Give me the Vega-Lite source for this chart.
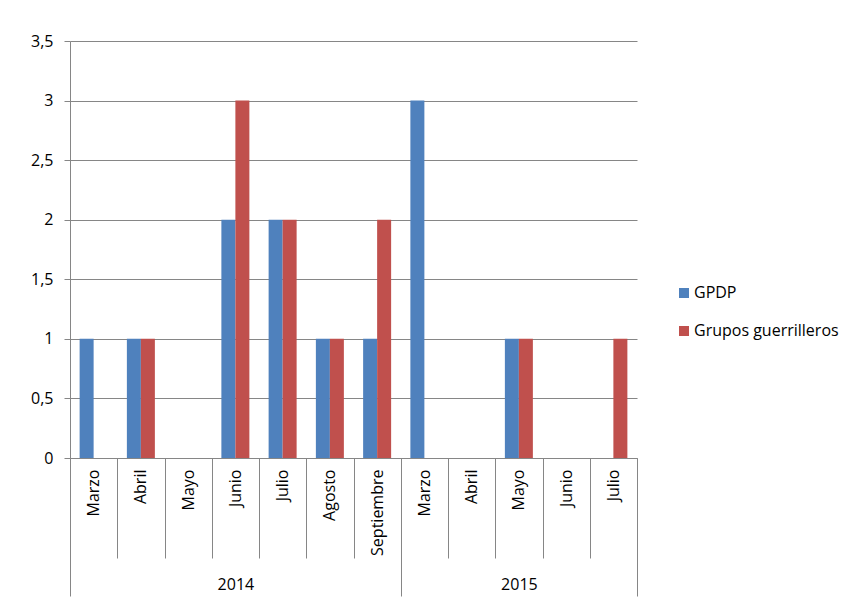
{
  "$schema": "https://vega.github.io/schema/vega-lite/v6.json",
  "width": 567,
  "height": 417,
  "autosize": {"type": "none"},
  "padding": {"left": 70, "top": 41, "right": 219, "bottom": 144},
  "background": "white",
  "config": {
    "font": "Open Sans",
    "view": {"stroke": null},
    "axis": {"labelFont": "Open Sans", "labelFontSize": 16, "labelColor": "#000000", "domainColor": "#868686", "tickColor": "#868686", "gridColor": "#868686"}
  },
  "data": {
    "values": [
      {"cat": "2014|Marzo", "serie": "GPDP", "valor": 1},
      {"cat": "2014|Marzo", "serie": "Grupos guerrilleros", "valor": 0},
      {"cat": "2014|Abril", "serie": "GPDP", "valor": 1},
      {"cat": "2014|Abril", "serie": "Grupos guerrilleros", "valor": 1},
      {"cat": "2014|Mayo", "serie": "GPDP", "valor": 0},
      {"cat": "2014|Mayo", "serie": "Grupos guerrilleros", "valor": 0},
      {"cat": "2014|Junio", "serie": "GPDP", "valor": 2},
      {"cat": "2014|Junio", "serie": "Grupos guerrilleros", "valor": 3},
      {"cat": "2014|Julio", "serie": "GPDP", "valor": 2},
      {"cat": "2014|Julio", "serie": "Grupos guerrilleros", "valor": 2},
      {"cat": "2014|Agosto", "serie": "GPDP", "valor": 1},
      {"cat": "2014|Agosto", "serie": "Grupos guerrilleros", "valor": 1},
      {"cat": "2014|Septiembre", "serie": "GPDP", "valor": 1},
      {"cat": "2014|Septiembre", "serie": "Grupos guerrilleros", "valor": 2},
      {"cat": "2015|Marzo", "serie": "GPDP", "valor": 3},
      {"cat": "2015|Marzo", "serie": "Grupos guerrilleros", "valor": 0},
      {"cat": "2015|Abril", "serie": "GPDP", "valor": 0},
      {"cat": "2015|Abril", "serie": "Grupos guerrilleros", "valor": 0},
      {"cat": "2015|Mayo", "serie": "GPDP", "valor": 1},
      {"cat": "2015|Mayo", "serie": "Grupos guerrilleros", "valor": 1},
      {"cat": "2015|Junio", "serie": "GPDP", "valor": 0},
      {"cat": "2015|Junio", "serie": "Grupos guerrilleros", "valor": 0},
      {"cat": "2015|Julio", "serie": "GPDP", "valor": 0},
      {"cat": "2015|Julio", "serie": "Grupos guerrilleros", "valor": 1}
    ]
  },
  "layer": [
    {
      "mark": {"type": "bar"},
      "encoding": {
        "x": {
          "field": "cat", "type": "nominal",
          "scale": {"domain": ["2014|Marzo", "2014|Abril", "2014|Mayo", "2014|Junio", "2014|Julio", "2014|Agosto", "2014|Septiembre", "2015|Marzo", "2015|Abril", "2015|Mayo", "2015|Junio", "2015|Julio"], "paddingInner": 0, "paddingOuter": 0},
          "axis": {
            "title": null, "orient": "bottom",
            "labelExpr": "datum.value ? split(datum.value, '|')[1] : ''",
            "labelAngle": 270, "labelAlign": "right", "labelBaseline": "middle",
            "tickBand": "extent", "tickSize": 100, "labelPadding": -89
          }
        },
        "xOffset": {"field": "serie", "type": "nominal", "scale": {"domain": ["GPDP", "Grupos guerrilleros"], "paddingInner": 0, "paddingOuter": 0.6875}},
        "y": {
          "field": "valor", "type": "quantitative",
          "scale": {"domain": [0, 3.5], "nice": false},
          "axis": {"title": null, "values": [0, 0.5, 1, 1.5, 2, 2.5, 3, 3.5], "format": ".1~f", "labelExpr": "replace(datum.label, '.', ',')", "tickSize": 6, "labelPadding": 11, "grid": true}
        },
        "color": {
          "field": "serie", "type": "nominal",
          "scale": {"domain": ["GPDP", "Grupos guerrilleros"], "range": ["#4F81BD", "#C0504D"]},
          "legend": {"title": null, "orient": "none", "legendX": 606, "legendY": 244, "symbolType": "square", "symbolSize": 100, "labelFontSize": 16, "labelFont": "Open Sans", "labelColor": "#000000", "rowPadding": 22, "labelOffset": 2, "padding": 0}
        }
      }
    },
    {
      "mark": {"type": "tick", "opacity": 0},
      "encoding": {
        "x": {
          "field": "cat", "type": "nominal",
          "scale": {"domain": ["2014|Marzo", "2014|Abril", "2014|Mayo", "2014|Junio", "2014|Julio", "2014|Agosto", "2014|Septiembre", "2015|Marzo", "2015|Abril", "2015|Mayo", "2015|Junio", "2015|Julio"], "paddingInner": 0, "paddingOuter": 0},
          "axis": {
            "title": null, "orient": "bottom", "domain": false,
            "labelExpr": "datum.value == '2014|Junio' ? '2014' : datum.value == '2015|Mayo' ? '2015' : ''",
            "labelAngle": 0, "labelAlign": "center", "labelBaseline": "top",
            "tickBand": "extent", "tickSize": 138, "labelPadding": -20,
            "tickOpacity": {"condition": {"test": "!datum.value || datum.value == '2014|Septiembre' || datum.value == '2015|Julio'", "value": 1}, "value": 0}
          }
        }
      }
    }
  ],
  "resolve": {"axis": {"x": "independent"}}
}
